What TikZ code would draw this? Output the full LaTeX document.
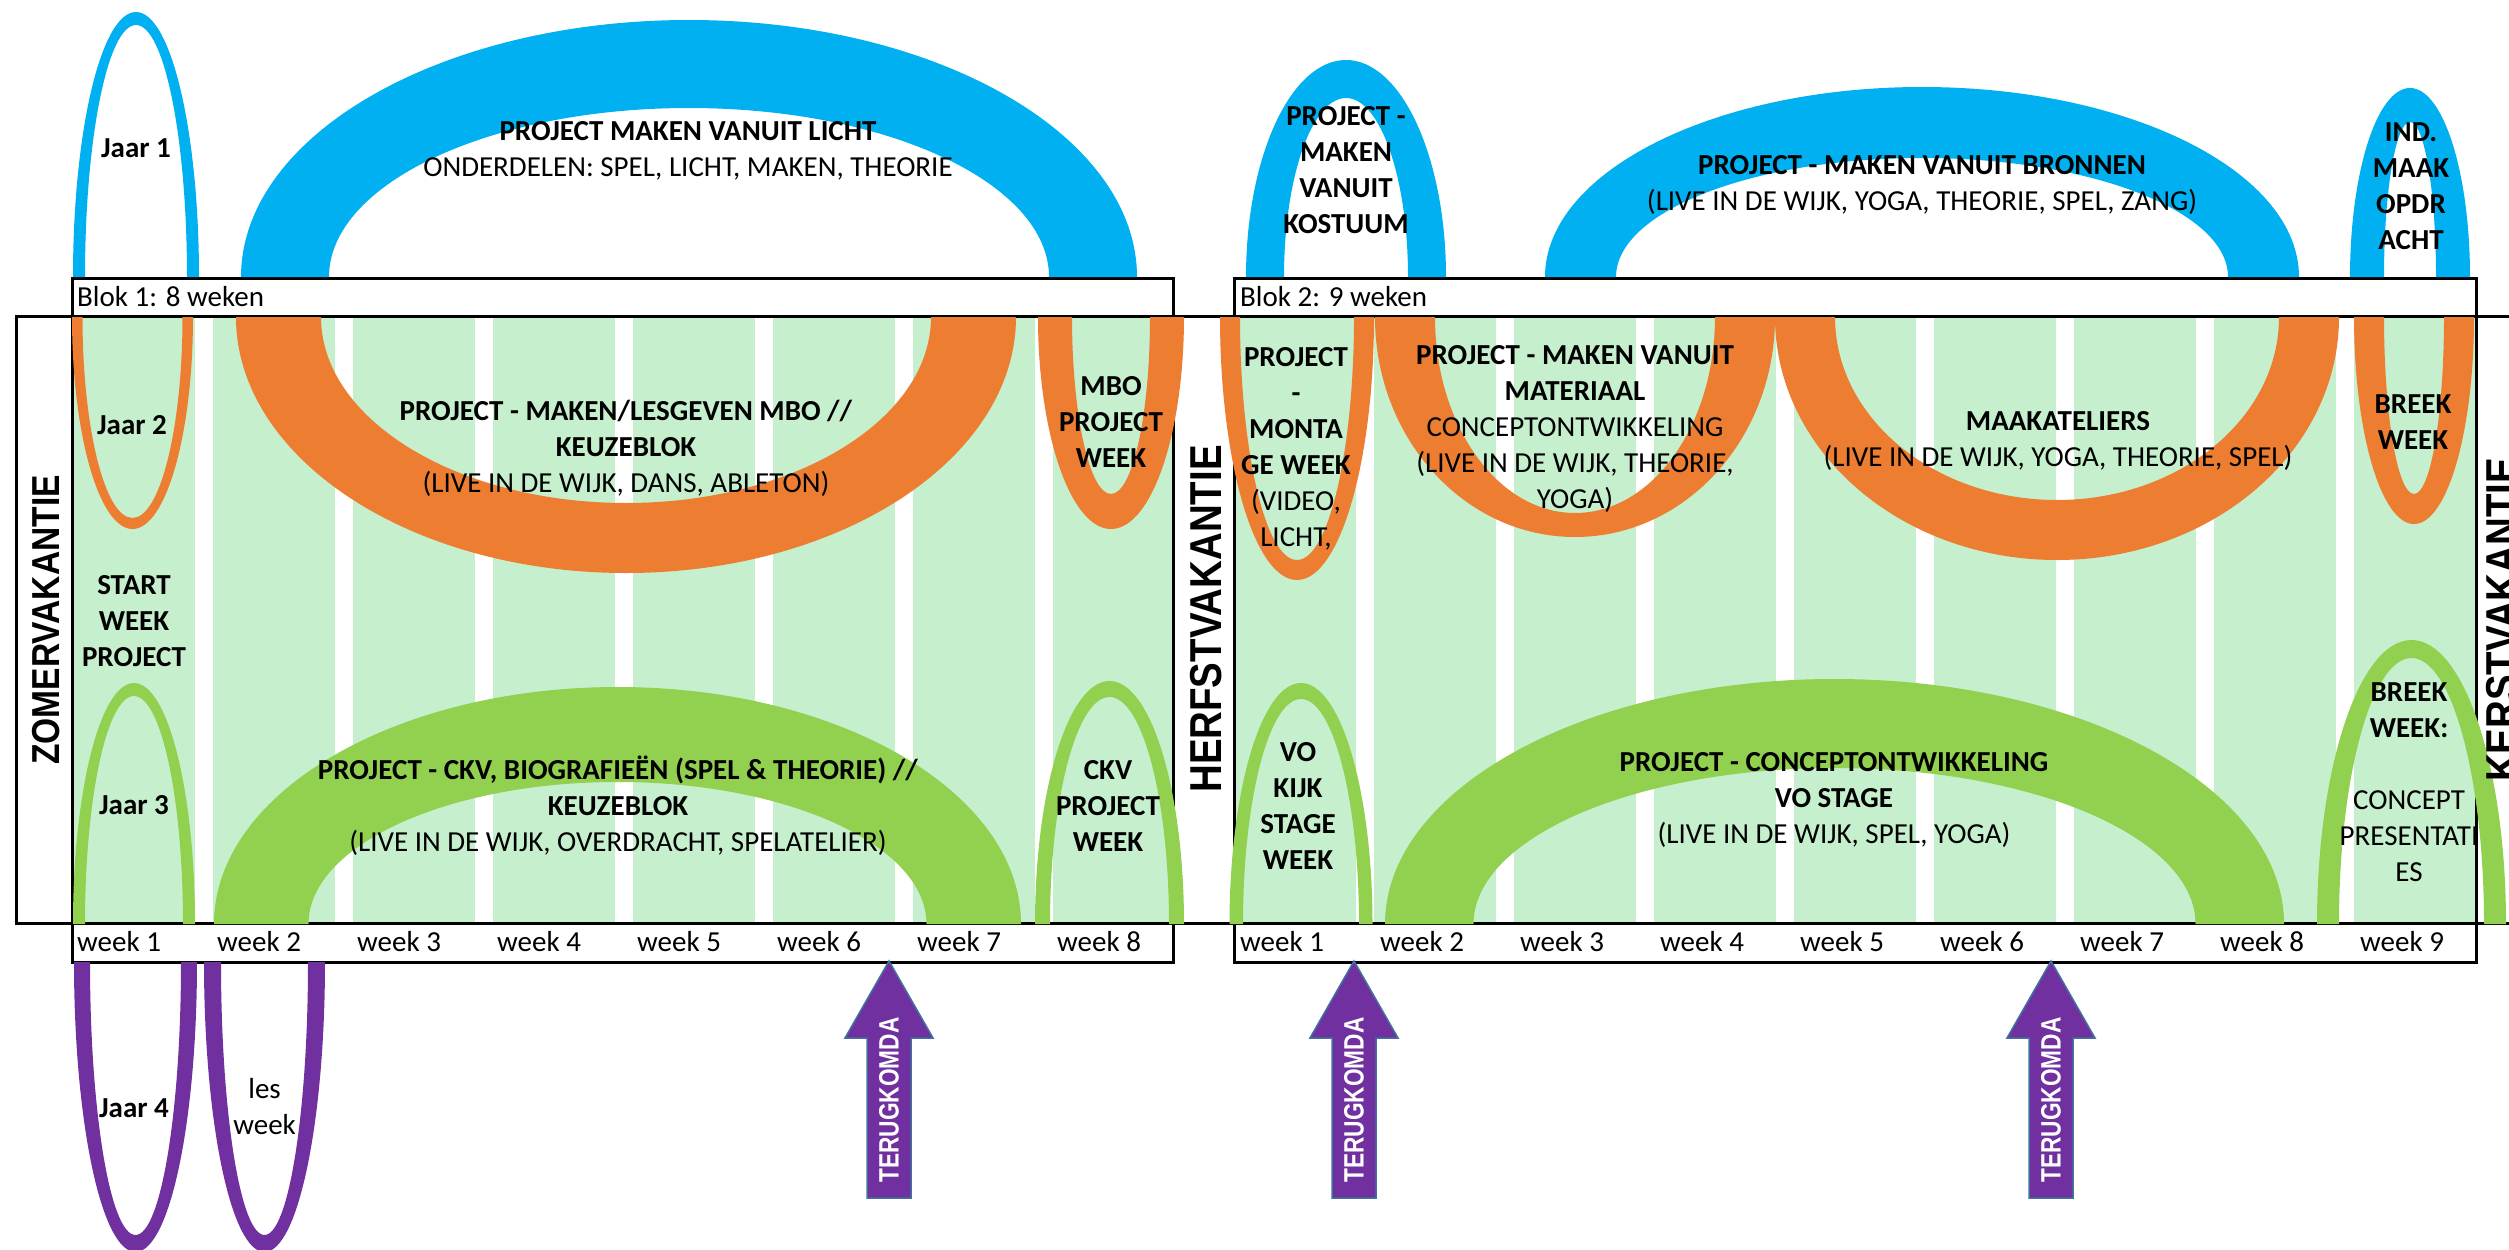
\documentclass[tikz,border=0pt]{standalone}
\usepackage{fontspec}
\setmainfont{Carlito}
\newfontfamily\kopfont{Liberation Sans}
\definecolor{blauw}{HTML}{00B0F0}
\definecolor{oranje}{HTML}{ED7D31}
\definecolor{groen}{HTML}{92D050}
\definecolor{paars}{HTML}{7030A0}
\definecolor{lichtgroen}{HTML}{C6EFCE}
\definecolor{rand}{HTML}{41719C}
\newcommand{\boogop}[7]{%
  \fill[#1] ({#2-#4},#3) arc[start angle=180, end angle=360, x radius=#4, y radius=#5]
    -- ({#2+#6},#3) arc[start angle=360, end angle=180, x radius=#6, y radius=#7] -- cycle;}
\newcommand{\boogneer}[7]{%
  \fill[#1] ({#2-#4},#3) arc[start angle=180, end angle=0, x radius=#4, y radius=#5]
    -- ({#2+#6},#3) arc[start angle=0, end angle=180, x radius=#6, y radius=#7] -- cycle;}

\begin{document}
\begin{tikzpicture}[x=1pt, y=-1pt,
    every node/.style={inner sep=0pt, align=center, font=\fontsize{29}{36}\selectfont},
    vet/.style={font=\fontsize{29}{36}\selectfont\bfseries},
    kolom/.style={fill=lichtgroen},
    kader/.style={draw, line width=3pt},
    vakantie/.style={rotate=90, xscale=0.86, font=\kopfont\bfseries\fontsize{#1}{#1}\selectfont},
    pijl/.style={fill=paars, draw=rand, line width=1.5pt},
    pijltekst/.style={text=white, rotate=90, xscale=0.81, font=\kopfont\bfseries\fontsize{28}{28}\selectfont}
]
    \useasboundingbox (0,0) rectangle (2509,1250);
    \clip (0,0) rectangle (2509,1250);

    \foreach \i in {0,...,7}
        \fill[kolom] ({72.5+140*\i},317) rectangle ++(122,606);
    \foreach \i in {0,...,8}
        \fill[kolom] ({1234+140*\i},317) rectangle ++(122,606);

    \draw[kader] (16,316) rectangle (2560,923);
    \draw[kader] (72.5,278) rectangle (1173.5,962);
    \draw[kader] (1234,278) rectangle (2476,962);

    \boogop{blauw}{136}{277}{63}{265}{51}{252}
    \boogop{blauw}{689}{277}{448}{257}{360}{169}
    \boogop{blauw}{1346}{277}{100}{217}{62}{179}
    \boogop{blauw}{1922}{277}{377}{190}{306}{119}
    \boogop{blauw}{2410}{277}{60}{189}{26}{155}

    \boogneer{oranje}{132.5}{317}{60.5}{212}{50}{201}
    \boogneer{oranje}{626}{317}{390}{256}{305}{186}
    \boogneer{oranje}{1111}{317}{73}{212}{39}{177}
    \boogneer{oranje}{1297}{317}{77}{263}{57}{243}
    \boogneer{oranje}{1575}{317}{200}{220}{140}{196}
    \boogneer{oranje}{2057}{317}{282}{243}{222}{183}
    \boogneer{oranje}{2414}{317}{60}{207}{30}{177}

    \boogop{groen}{134}{924}{61}{241}{49}{228}
    \boogop{groen}{617.5}{924}{403.5}{237}{309}{142}
    \boogop{groen}{1109.5}{924}{74.5}{243}{59.5}{227}
    \boogop{groen}{1301}{924}{71.5}{241}{58}{225}
    \boogop{groen}{1834.5}{924}{449.5}{245}{361}{156}
    \boogop{groen}{2411.5}{924}{94.5}{284}{72.5}{266}

    \boogneer{paars}{135.5}{962}{61.5}{290}{45.5}{273}
    \boogneer{paars}{264.5}{962}{60.5}{290}{43.5}{273}

    \node[anchor=west] (blok1) at (77,297) {Blok 1: 8 weken};
    \node[anchor=west] (blok2) at (1240,297) {Blok 2: 9 weken};
    \foreach \i in {1,...,8}
        \node[anchor=west] (wa\i) at ({77+140*(\i-1)},942) {week \i};
    \foreach \i in {1,...,9}
        \node[anchor=west] (wb\i) at ({1240+140*(\i-1)},942) {week \i};

    \node[vakantie=39] (zomer) at (46,620) {ZOMERVAKANTIE};
    \node[vakantie=44.7] (herfst) at (1206,619) {HERFSTVAKANTIE};
    \node[vakantie=44.7] (kerst) at (2502,620) {KERSTVAKANTIE};

    \node[vet] (jaar1) at (136,148) {Jaar 1};
    \node (licht) at (688,151) {\textbf{PROJECT MAKEN VANUIT LICHT}\\ONDERDELEN: SPEL, LICHT, MAKEN, THEORIE};
    \node[vet] (kostuum) at (1346,170) {PROJECT -\\MAKEN\\VANUIT\\KOSTUUM};
    \node (bronnen) at (1922,185) {\textbf{PROJECT - MAKEN VANUIT BRONNEN}\\(LIVE IN DE WIJK, YOGA, THEORIE, SPEL, ZANG)};
    \node[vet] (ind) at (2411,186) {IND.\\MAAK\\OPDR\\ACHT};

    \node[vet] (jaar2) at (132,425) {Jaar 2};
    \node (mbo) at (626,448) {\textbf{PROJECT - MAKEN/LESGEVEN MBO //}\\\textbf{KEUZEBLOK}\\(LIVE IN DE WIJK, DANS, ABLETON)};
    \node[vet] (mboweek) at (1111,422) {MBO\\PROJECT\\WEEK};
    \node (montage) at (1296,448.5) {\textbf{PROJECT}\\\textbf{-}\\\textbf{MONTA}\\\textbf{GE WEEK}\\(VIDEO,\\LICHT,};
    \node (materiaal) at (1575,428.5) {\textbf{PROJECT - MAKEN VANUIT}\\\textbf{MATERIAAL}\\CONCEPTONTWIKKELING\\(LIVE IN DE WIJK, THEORIE,\\YOGA)};
    \node (ateliers) at (2058,440.5) {\textbf{MAAKATELIERS}\\(LIVE IN DE WIJK, YOGA, THEORIE, SPEL)};
    \node[vet] (breek1) at (2413,422) {BREEK\\WEEK};

    \node[vet] (start) at (134,621) {START\\WEEK\\PROJECT};

    \node[vet] (jaar3) at (134,805) {Jaar 3};
    \node (ckv) at (618,806) {\textbf{PROJECT - CKV, BIOGRAFIEËN (SPEL \& THEORIE) //}\\\textbf{KEUZEBLOK}\\(LIVE IN DE WIJK, OVERDRACHT, SPELATELIER)};
    \node[vet] (ckvweek) at (1108,805.5) {CKV\\PROJECT\\WEEK};
    \node[vet] (vokijk) at (1298,805.5) {VO\\KIJK\\STAGE\\WEEK};
    \node (vostage) at (1834,800) {\textbf{PROJECT - CONCEPTONTWIKKELING}\\\textbf{VO STAGE}\\(LIVE IN DE WIJK, SPEL, YOGA)};
    \node (breek2) at (2409,782.5) {\textbf{BREEK}\\\textbf{WEEK:}\\\mbox{}\\CONCEPT\\PRESENTATI\\ES};

    \node[vet] (jaar4) at (134,1108) {Jaar 4};
    \node (les) at (264.6,1106.5) {les\\week};

    \foreach \px/\pn in {889/a, 1354/b, 2051/c} {
        \draw[pijl] (\px,961) -- ({\px+44},1038) -- ({\px+22},1038) -- ({\px+22},1198)
            -- ({\px-22},1198) -- ({\px-22},1038) -- ({\px-44},1038) -- cycle;
        \node[pijltekst] (terug\pn) at (\px,1100) {TERUGKOMDA};
    }
\end{tikzpicture}
\end{document}
